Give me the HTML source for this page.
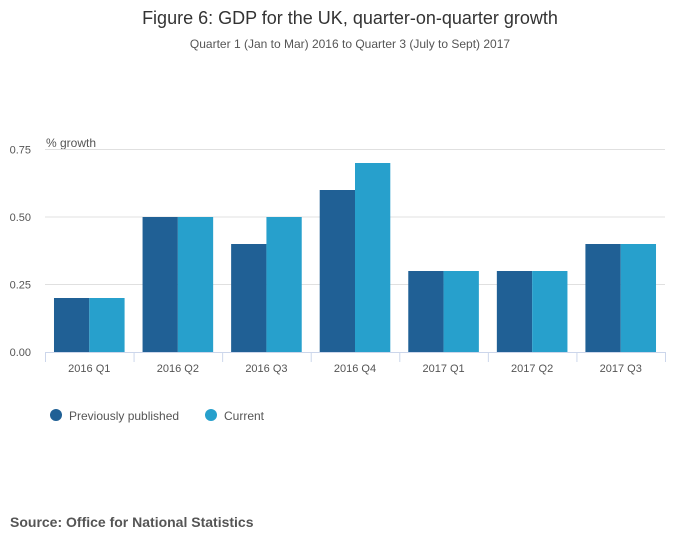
<!DOCTYPE html>
<html><head><meta charset="utf-8"><style>
body{margin:0;background:#fff;font-family:"Liberation Sans",sans-serif;}
svg text{font-family:"Liberation Sans",sans-serif;}
</style></head><body>
<svg width="700" height="549" xmlns="http://www.w3.org/2000/svg">
<text x="350" y="24" text-anchor="middle" font-size="18" fill="#333">Figure 6: GDP for the UK, quarter-on-quarter growth</text>
<text x="350" y="48" text-anchor="middle" font-size="12" fill="#555">Quarter 1 (Jan to Mar) 2016 to Quarter 3 (July to Sept) 2017</text>
<text x="46" y="147" font-size="12" fill="#555">% growth</text>
<g id="grid"></g><g id="bars"></g><g id="xaxis"></g>
<g>
<circle cx="56" cy="415" r="6" fill="#206095"/>
<text x="69" y="420" font-size="12" fill="#555">Previously published</text>
<circle cx="211" cy="415" r="6" fill="#27a0cc"/>
<text x="224" y="420" font-size="12" fill="#555">Current</text>
</g>
<text x="10" y="527" font-size="14" font-weight="bold" fill="#555">Source: Office for National Statistics</text>
</svg>
<script>
const categories=["2016 Q1","2016 Q2","2016 Q3","2016 Q4","2017 Q1","2017 Q2","2017 Q3"];
const previous=[0.2,0.5,0.4,0.6,0.3,0.3,0.4];
const current=[0.2,0.5,0.5,0.7,0.3,0.3,0.4];
const yTicks=[0,0.25,0.5,0.75];
const yTickLabels=["0.00","0.25","0.50","0.75"];
const NS="http://www.w3.org/2000/svg";
const L=45,R=665,Y0=352,Ytop=149.5,ymax=0.75;
const y=v=>Y0-(Y0-Ytop)*v/ymax;
const bw=(R-L)/categories.length;
const x=i=>L+i*bw;
function mk(tag,attrs,parent){const e=document.createElementNS(NS,tag);for(const k in attrs)e.setAttribute(k,attrs[k]);parent.appendChild(e);return e;}
const grid=document.getElementById('grid'),bars=document.getElementById('bars'),xa=document.getElementById('xaxis');
yTicks.forEach((t,i)=>{
 if(t>0){const g=mk('line',{x1:L,x2:R,y1:y(t),y2:y(t),stroke:'#e0e0e0','stroke-width':1},grid);
 
 }
 const tx=mk('text',{x:31,y:y(t)+4,'text-anchor':'end','font-size':11,fill:'#555'},grid);tx.textContent=yTickLabels[i];
 
 
});
const bwid=35.3;
categories.forEach((c,i)=>{
 const cx=x(i)+bw/2;
 const b1=mk('rect',{x:cx-bwid,y:y(previous[i]),width:bwid,height:Y0-y(previous[i]),fill:'#206095'},bars);
 
 
 const b2=mk('rect',{x:cx,y:y(current[i]),width:bwid,height:Y0-y(current[i]),fill:'#27a0cc'},bars);
 
 
 const tx=mk('text',{x:cx,y:372,'text-anchor':'middle','font-size':11,fill:'#555'},xa);tx.textContent=c;
 
 
});
const ax=mk('line',{x1:L,x2:R,y1:Y0+0.5,y2:Y0+0.5,stroke:'#ccd6eb','stroke-width':1},xa);


for(let i=0;i<=categories.length;i++){
 const t=mk('line',{x1:x(i)+0.5,x2:x(i)+0.5,y1:Y0,y2:Y0+10,stroke:'#ccd6eb','stroke-width':1},xa);
 
 
}
</script>
</body></html>
